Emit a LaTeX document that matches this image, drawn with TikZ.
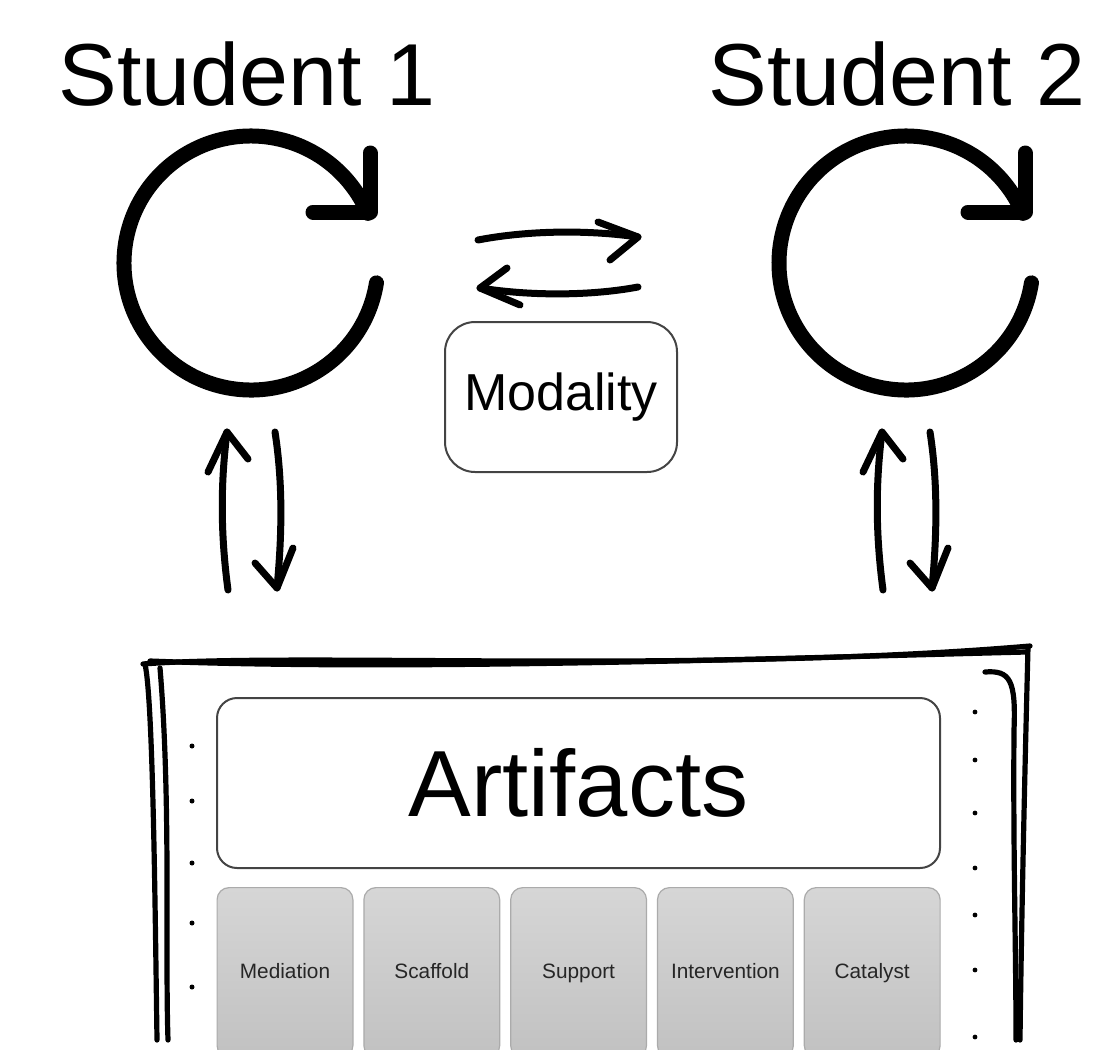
\documentclass[tikz,border=0pt]{standalone}
\usepackage{fontspec}
\setmainfont{Liberation Sans}
\usepackage{tikz}
\usepackage{xcolor}
\definecolor{tabtop}{HTML}{D6D6D6}
\definecolor{tabbot}{HTML}{C1C1C1}
\definecolor{tabrim}{HTML}{ABABAB}
\definecolor{rim}{HTML}{444444}

\begin{document}
\begin{tikzpicture}[x=0.5pt,y=-0.5pt]%
  \tikzstyle{cyc}=[line width=7.5pt,line cap=round,line join=round]
  \tikzstyle{flow}=[line width=3.5pt,line cap=round,line join=round]
  \tikzstyle{sketch}=[line width=2.6pt,line cap=round]
  \tikzstyle{titlen}=[anchor=base,inner sep=0,font=\fontsize{44}{44}\selectfont]
  \tikzstyle{modn}=[rectangle,draw=rim,line width=1pt,rounded corners=15pt,
    minimum width=116pt,minimum height=75pt,font=\fontsize{26}{26}\selectfont]
  \tikzstyle{artn}=[rectangle,draw=rim,line width=1pt,rounded corners=10pt,
    minimum width=361.5pt,minimum height=85pt,font=\fontsize{47}{47}\selectfont]
  \tikzstyle{tabn}=[rectangle,draw=tabrim,line width=0.6pt,rounded corners=6pt,
    top color=tabtop,bottom color=tabbot,anchor=north,
    minimum width=67.9pt,minimum height=85pt,text=black!85,
    text height=1.5ex,text depth=0.3ex,
    font=\fontsize{10.4}{11}\selectfont]
  \useasboundingbox (0,0) rectangle (1106,1049);

  % the two students, each with its own cycle
  \foreach \s/\cx/\tx in {1/251/247, 2/906/897}{
    \node[titlen] (stu\s) at (\tx,105) {Student \s};
    \coordinate (cyc\s) at (\cx,263);
    \draw[cyc] ([shift={(-9:63.5pt)}]cyc\s) arc[start angle=-9,end angle=-337,radius=63.5pt];
    \draw[cyc] ([shift={(31pt,25.5pt)}]cyc\s) -- ++(28.5pt,0) -- ++(0,29.5pt);
    % up and down to the artifacts
    \draw[flow] (\cx-23,590) .. controls (\cx-31,530) and (\cx-30,480) .. (\cx-24,432);
    \draw[flow] (\cx-43,472) -- (\cx-24,432) -- (\cx-3,459);
    \draw[flow] (\cx+24,432) .. controls (\cx+33,490) and (\cx+30,545) .. (\cx+26,588);
    \draw[flow] (\cx+4,563) -- (\cx+26,588) -- (\cx+42,548);
  }

  % exchange between the students
  \coordinate (fwdL) at (478,240);
  \coordinate (fwdR) at (638,237);
  \coordinate (bckR) at (638,287);
  \coordinate (bckL) at (480,288);
  \draw[flow] (fwdL) .. controls (530,230) and (590,230) .. (fwdR);
  \draw[flow] (598,222) -- (fwdR) -- (610,260);
  \draw[flow] (bckR) .. controls (590,296) and (530,296) .. (bckL);
  \draw[flow] (507,268) -- (bckL) -- (520,305);

  \node[modn] (mod) at (561,397) {Modality};

  % hand drawn sheet
  \draw[sketch] (143,664) .. controls (300,652) and (700,674) .. (1030,646);
  \draw[sketch] (150,661) .. controls (400,671) and (750,659) .. (1026,652);
  \draw[sketch] (145,664) .. controls (153,700) and (155,900) .. (157,1040);
  \draw[sketch] (160,668) .. controls (171,800) and (165,950) .. (168,1040);
  \draw[sketch] (1028,647) .. controls (1024,800) and (1021,950) .. (1020,1040);
  \draw[sketch] (985,672) .. controls (1010,670) and (1016,680) .. (1014,730)
    .. controls (1013,850) and (1016,950) .. (1016,1040);
  \foreach \y in {746,801,863,923,987}
    \fill (192,\y) circle (1.25pt);
  \foreach \y in {712,760,813,868,915,970,1037}
    \fill (975,\y) circle (1.2pt);

  \node[artn] (art) at (578.5,783) {Artifacts};
  \foreach \lbl [count=\i from 0] in {Mediation,Scaffold,Support,Intervention,Catalyst}
    \node[tabn] (tab\i) at (285+146.8*\i,887) {\lbl};
\end{tikzpicture}
\end{document}
